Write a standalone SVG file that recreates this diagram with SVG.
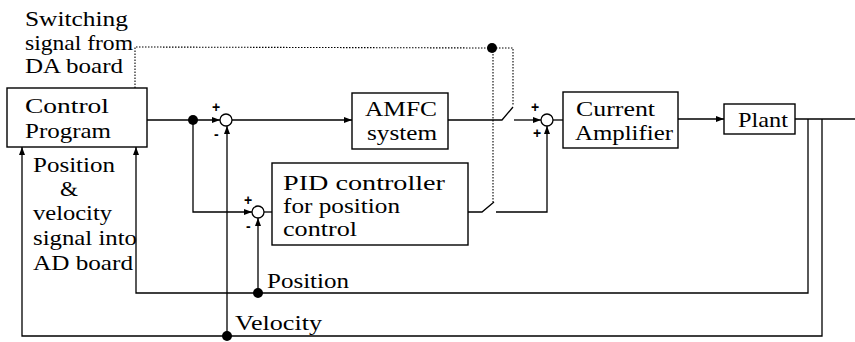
<svg xmlns="http://www.w3.org/2000/svg" width="855" height="342" viewBox="0 0 855 342">
<defs>
<marker id="arr" markerUnits="userSpaceOnUse" markerWidth="9" markerHeight="7" refX="8" refY="3" orient="auto">
<path d="M0,0 L8,3 L0,6 z" fill="#000"/>
</marker>
<style>
.box{fill:#fff;stroke:#000;stroke-width:1.4}
.ln{fill:none;stroke:#000;stroke-width:1.3}
.dot{fill:none;stroke:#000;stroke-width:1.1;stroke-dasharray:1.5 1.5}
.sum{fill:#fff;stroke:#000;stroke-width:1.3}
.jn{fill:#000}
.t{font-family:"Liberation Serif","Times New Roman",serif;font-size:22px;fill:#000}
.s{font-family:"Liberation Sans",Arial,sans-serif;font-size:14px;font-weight:bold;fill:#000}
</style>
</defs>
<rect width="855" height="342" fill="#fff"/>

<g id="connectors">
<polyline class="dot" points="135,88 135,47 492,48 513,48 513,106"/>
<line class="dot" x1="493" y1="48" x2="493" y2="202"/>
<line class="ln" x1="147" y1="120" x2="220" y2="120" marker-end="url(#arr)"/>
<line class="ln" x1="232" y1="120" x2="352" y2="120" marker-end="url(#arr)"/>
<polyline class="ln" points="193,120 193,212 252,212" marker-end="url(#arr)"/>
<line class="ln" x1="264" y1="212" x2="272" y2="212"/>
<polyline class="ln" points="448,120 502,120 513,107"/>
<line class="ln" x1="514" y1="120" x2="541" y2="120" marker-end="url(#arr)"/>
<polyline class="ln" points="468,212 482,212 494,202"/>
<polyline class="ln" points="496,212 547,212 547,126" marker-end="url(#arr)"/>
<line class="ln" x1="553" y1="120" x2="563" y2="120"/>
<line class="ln" x1="678" y1="119" x2="724" y2="119" marker-end="url(#arr)"/>
<line class="ln" x1="795" y1="119" x2="855" y2="119"/>
<polyline class="ln" points="808,119 808,293 136,293 136,147" marker-end="url(#arr)"/>
<polyline class="ln" points="822,119 822,336 22,336 22,147" marker-end="url(#arr)"/>
<line class="ln" x1="258" y1="293" x2="258" y2="218" marker-end="url(#arr)"/>
<line class="ln" x1="227" y1="336" x2="227" y2="126" marker-end="url(#arr)"/>
<circle class="jn" cx="193" cy="120" r="5"/>
<circle class="jn" cx="492" cy="48" r="5"/>
<circle class="jn" cx="258" cy="293" r="5"/>
<circle class="jn" cx="227" cy="336" r="5"/>
</g>

<g id="sum1">
<circle class="sum" cx="226" cy="120" r="6"/>
<text class="s" x="212" y="112">+</text>
<text class="s" x="214" y="139">-</text>
</g>
<g id="sum2">
<circle class="sum" cx="258" cy="212" r="6"/>
<text class="s" x="244" y="205">+</text>
<text class="s" x="246" y="231">-</text>
</g>
<g id="sum3">
<circle class="sum" cx="547" cy="120" r="6"/>
<text class="s" x="531" y="112">+</text>
<text class="s" x="533" y="138">+</text>
</g>

<g id="switching-label">
<text class="t" x="25" y="26" textLength="103" lengthAdjust="spacingAndGlyphs">Switching</text>
<text class="t" x="25" y="50" textLength="108" lengthAdjust="spacingAndGlyphs">signal from</text>
<text class="t" x="25" y="73" textLength="98" lengthAdjust="spacingAndGlyphs">DA board</text>
</g>

<g id="control-program">
<rect class="box" x="7" y="88" width="140" height="59"/>
<text class="t" x="25" y="113" textLength="84" lengthAdjust="spacingAndGlyphs">Control</text>
<text class="t" x="25" y="138" textLength="86" lengthAdjust="spacingAndGlyphs">Program</text>
</g>

<g id="ad-label">
<text class="t" x="33" y="172" textLength="82" lengthAdjust="spacingAndGlyphs">Position</text>
<text class="t" x="60" y="196" textLength="18" lengthAdjust="spacingAndGlyphs">&amp;</text>
<text class="t" x="33" y="220" textLength="79" lengthAdjust="spacingAndGlyphs">velocity</text>
<text class="t" x="33" y="245" textLength="104" lengthAdjust="spacingAndGlyphs">signal into</text>
<text class="t" x="33" y="270" textLength="100" lengthAdjust="spacingAndGlyphs">AD board</text>
</g>

<g id="amfc">
<rect class="box" x="352" y="93" width="96" height="56"/>
<text class="t" x="365" y="116" textLength="72" lengthAdjust="spacingAndGlyphs">AMFC</text>
<text class="t" x="367" y="140" textLength="70" lengthAdjust="spacingAndGlyphs">system</text>
</g>

<g id="pid">
<rect class="box" x="272" y="163" width="196" height="82"/>
<text class="t" x="283" y="190" textLength="162" lengthAdjust="spacingAndGlyphs">PID controller</text>
<text class="t" x="283" y="213" textLength="117" lengthAdjust="spacingAndGlyphs">for position</text>
<text class="t" x="283" y="236" textLength="74" lengthAdjust="spacingAndGlyphs">control</text>
</g>

<g id="current-amplifier">
<rect class="box" x="563" y="92" width="115" height="56"/>
<text class="t" x="576" y="116" textLength="79" lengthAdjust="spacingAndGlyphs">Current</text>
<text class="t" x="575" y="140" textLength="98" lengthAdjust="spacingAndGlyphs">Amplifier</text>
</g>

<g id="plant">
<rect class="box" x="724" y="104" width="71" height="30"/>
<text class="t" x="738" y="127" textLength="50" lengthAdjust="spacingAndGlyphs">Plant</text>
</g>

<g id="feedback-labels">
<text class="t" x="267" y="288" textLength="82" lengthAdjust="spacingAndGlyphs">Position</text>
<text class="t" x="235" y="330" textLength="87" lengthAdjust="spacingAndGlyphs">Velocity</text>
</g>
</svg>
